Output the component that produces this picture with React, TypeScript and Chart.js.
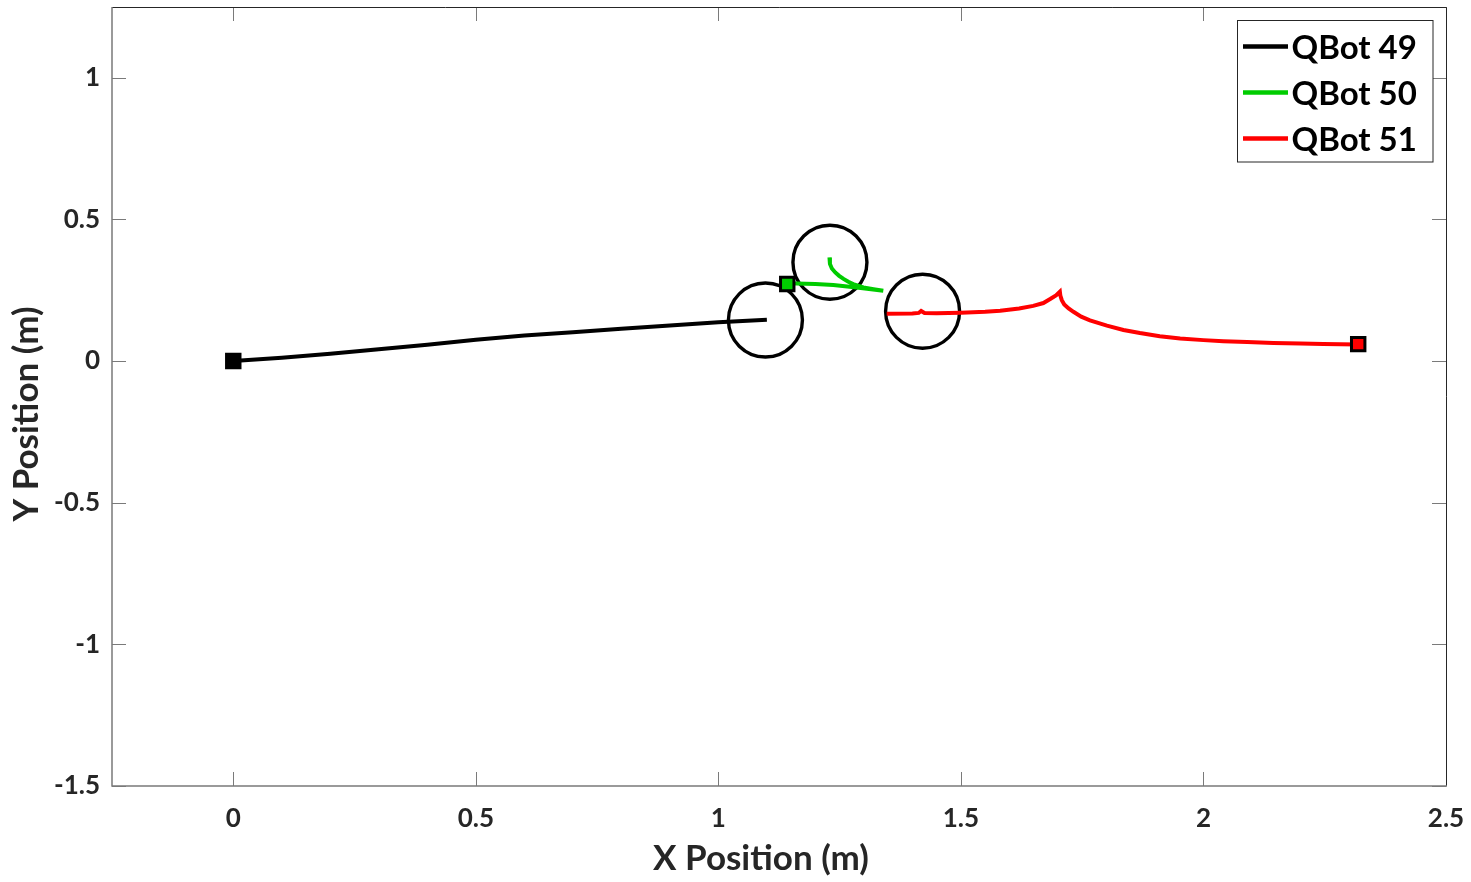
import React, { useEffect, useRef } from 'react';
import { Chart, registerables } from 'chart.js';

Chart.register(...registerables);

// ---- Data ----
const xTicks = [0, 0.5, 1, 1.5, 2, 2.5];
const yTicks = [-1.5, -1, -0.5, 0, 0.5, 1];
const xRange = [-0.25, 2.5];
const yRange = [-1.5, 1.25];

const seriesNames = ['QBot 49', 'QBot 50', 'QBot 51'];
const seriesColors = ['#000000', '#00CC00', '#FF0000'];

const qbot49X = [0, 0.1, 0.2, 0.3, 0.4, 0.5, 0.6, 0.7, 0.8, 0.9, 1.0, 1.1];
const qbot49Y = [0, 0.012, 0.026, 0.042, 0.058, 0.075, 0.090, 0.102, 0.114, 0.126, 0.137, 0.146];

// null separates the two pieces of the QBot 50 path
const qbot50X = [1.229, 1.230, 1.234, 1.241, 1.249, 1.258, 1.268, 1.278, 1.299, 1.32, 1.34, 1.34, 1.142, 1.20, 1.237, 1.285, 1.34];
const qbot50Y = [0.366, 0.343, 0.327, 0.313, 0.301, 0.290, 0.280, 0.272, 0.260, 0.254, 0.248, null, 0.275, 0.272, 0.269, 0.260, 0.248];

const qbot51X = [1.347, 1.40, 1.413, 1.418, 1.425, 1.45, 1.50, 1.55, 1.581, 1.62, 1.649, 1.67, 1.684, 1.696, 1.704, 1.705, 1.708, 1.713, 1.722, 1.732, 1.748, 1.766, 1.801, 1.835, 1.869, 1.91, 1.952, 2.0, 2.041, 2.09, 2.144, 2.2, 2.247, 2.319];
const qbot51Y = [0.167, 0.168, 0.170, 0.177, 0.170, 0.169, 0.171, 0.174, 0.178, 0.186, 0.195, 0.205, 0.219, 0.232, 0.245, 0.231, 0.215, 0.200, 0.186, 0.174, 0.157, 0.144, 0.125, 0.110, 0.099, 0.088, 0.080, 0.074, 0.070, 0.067, 0.064, 0.062, 0.060, 0.059];

const endX = [0, 1.142, 2.319];
const endY = [0, 0.272, 0.060];

const circleX = [1.097, 1.230, 1.421];
const circleY = [0.145, 0.349, 0.176];

const xLabel = 'X Position (m)';
const yLabel = 'Y Position (m)';

const FONT = 'Lato, "Open Sans", "DejaVu Sans", sans-serif';

function pts(xs: number[], ys: (number | null)[]) {
  return xs.map((x, i) => ({ x, y: ys[i] as any }));
}

const framePlugin = {
  id: 'frameTicks',
  beforeDatasetsDraw(chart: any) {
    const { ctx, chartArea } = chart;
    const { left, right, top, bottom } = chartArea;
    const xs = chart.scales.x;
    const ys = chart.scales.y;
    const tl = 14;
    ctx.save();
    ctx.strokeStyle = '#7a7a7a';
    ctx.lineWidth = 1;
    ctx.beginPath();
    xTicks.forEach((v) => {
      const px = Math.round(xs.getPixelForValue(v)) + 0.5;
      ctx.moveTo(px, bottom);
      ctx.lineTo(px, bottom - tl);
      ctx.moveTo(px, top);
      ctx.lineTo(px, top + tl);
    });
    yTicks.forEach((v) => {
      const py = Math.round(ys.getPixelForValue(v)) + 0.5;
      ctx.moveTo(left, py);
      ctx.lineTo(left + tl, py);
      ctx.moveTo(right, py);
      ctx.lineTo(right - tl, py);
    });
    ctx.stroke();
    ctx.strokeStyle = '#262626';
    ctx.lineWidth = 1;
    ctx.beginPath();
    ctx.moveTo(left, top + 0.5);
    ctx.lineTo(right + 0.5, top + 0.5);
    ctx.lineTo(right + 0.5, bottom);
    ctx.stroke();
    ctx.strokeStyle = '#7a7a7a';
    ctx.lineWidth = 1.5;
    ctx.beginPath();
    ctx.moveTo(left, top);
    ctx.lineTo(left, bottom);
    ctx.lineTo(right + 1, bottom);
    ctx.stroke();
    ctx.restore();
  },
  afterDraw(chart: any) {
    const { ctx, chartArea } = chart;
    ctx.save();
    ctx.fillStyle = '#262626';
    ctx.font = `bold 35px ${FONT}`;
    ctx.textAlign = 'center';
    ctx.textBaseline = 'alphabetic';
    ctx.fillText(xLabel, 761, 870);
    ctx.translate(38, 414);
    ctx.rotate(-Math.PI / 2);
    ctx.fillText(yLabel, 0, 0);
    ctx.restore();

    ctx.save();
    const bx = chartArea.right - 208.5;
    const by = chartArea.top + 13.5;
    const bw = 195.5;
    const bh = 141.5;
    ctx.fillStyle = '#ffffff';
    ctx.fillRect(bx, by, bw, bh);
    ctx.strokeStyle = '#262626';
    ctx.lineWidth = 1;
    ctx.strokeRect(bx, by, bw, bh);
    ctx.font = `bold 33px ${FONT}`;
    ctx.textAlign = 'left';
    ctx.textBaseline = 'middle';
    seriesNames.forEach((name, i) => {
      const cy = by + 26 + i * 46;
      ctx.strokeStyle = seriesColors[i];
      ctx.lineWidth = 4.5;
      ctx.beginPath();
      ctx.moveTo(bx + 5.5, cy);
      ctx.lineTo(bx + 50.5, cy);
      ctx.stroke();
      ctx.fillStyle = '#000000';
      ctx.fillText(name, bx + 54, cy + 2);
    });
    ctx.restore();
  },
};

export default function App() {
  const ref = useRef<HTMLCanvasElement | null>(null);

  useEffect(() => {
    document.body.style.margin = '0';
    const canvas = ref.current!;
    const lineDs = (i: number, data: any[]) => ({
      type: 'scatter' as const,
      label: seriesNames[i],
      data,
      showLine: true,
      borderColor: seriesColors[i],
      backgroundColor: seriesColors[i],
      borderWidth: 4,
      pointRadius: 0,
      tension: 0,
      spanGaps: false,
      order: 2,
    });
    const zeroPad = (s: any) => {
      s.paddingTop = 0;
      s.paddingBottom = 0;
      s.paddingLeft = 0;
      s.paddingRight = 0;
    };
    const chart = new Chart(canvas, {
      type: 'scatter',
      data: {
        datasets: [
          {
            label: 'ends',
            data: pts(endX, endY),
            pointStyle: 'rect',
            pointRadius: 9.5,
            pointBorderWidth: 3,
            pointBackgroundColor: seriesColors,
            pointBorderColor: '#000000',
            showLine: false,
            order: 0,
          } as any,
          lineDs(0, pts(qbot49X, qbot49Y)),
          lineDs(1, pts(qbot50X, qbot50Y)),
          lineDs(2, pts(qbot51X, qbot51Y)),
          {
            label: 'circles',
            data: pts(circleX, circleY),
            pointStyle: 'circle',
            pointRadius: 37,
            pointBorderWidth: 3.4,
            pointBackgroundColor: 'rgba(0,0,0,0)',
            pointBorderColor: '#000000',
            showLine: false,
            order: 3,
          } as any,
        ],
      },
      options: {
        responsive: false,
        animation: false,
        devicePixelRatio: 1,
        layout: { autoPadding: false, padding: { left: 0, top: 7, right: 25, bottom: 0 } },
        plugins: {
          legend: { display: false },
          tooltip: { enabled: false },
        },
        events: [],
        scales: {
          x: {
            type: 'linear',
            min: xRange[0],
            max: xRange[1],
            grid: { display: false, drawTicks: false },
            border: { display: false },
            afterBuildTicks: (s: any) => {
              s.ticks = xTicks.map((v) => ({ value: v }));
            },
            afterFit: (s: any) => {
              s.height = 96;
              zeroPad(s);
            },
            ticks: {
              autoSkip: false,
              maxRotation: 0,
              padding: 17,
              color: '#262626',
              font: { family: FONT, size: 26, weight: 'bold' },
              callback: (v: any) => String(v),
            },
          },
          y: {
            type: 'linear',
            min: yRange[0],
            max: yRange[1],
            grid: { display: false, drawTicks: false },
            border: { display: false },
            afterBuildTicks: (s: any) => {
              s.ticks = yTicks.map((v) => ({ value: v }));
            },
            afterFit: (s: any) => {
              s.width = 112;
              zeroPad(s);
            },
            ticks: {
              autoSkip: false,
              padding: 12,
              color: '#262626',
              font: { family: FONT, size: 26, weight: 'bold' },
              callback: (v: any) => String(v),
            },
          },
        },
      },
      plugins: [framePlugin],
    });
    return () => chart.destroy();
  }, []);

  return (
    <canvas
      ref={ref}
      width={1471}
      height={882}
      style={{ display: 'block', width: 1471, height: 882 }}
    />
  );
}
